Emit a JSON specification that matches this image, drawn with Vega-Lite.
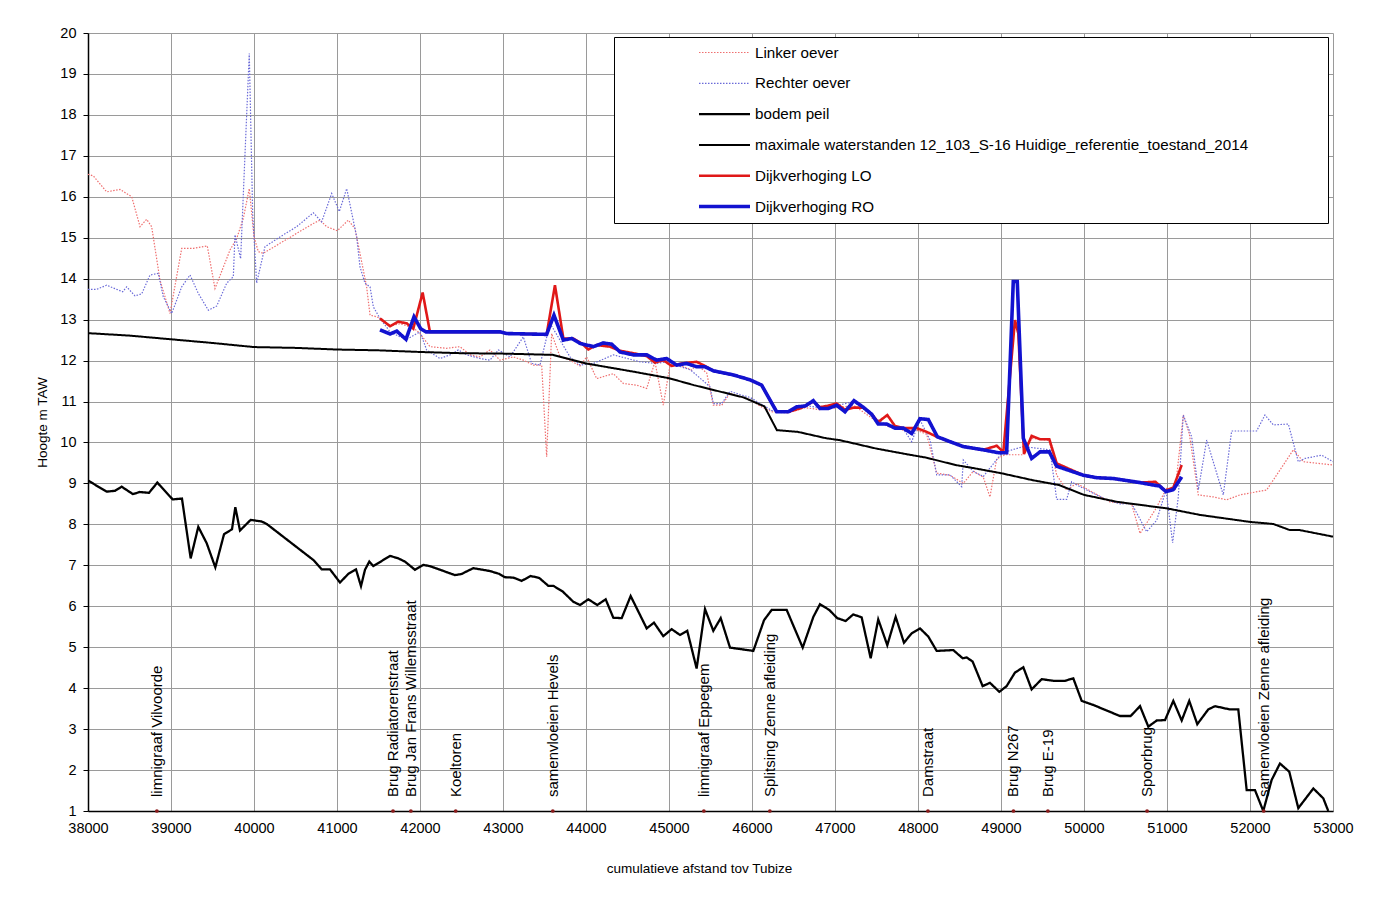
{
  "$schema": "https://vega.github.io/schema/vega-lite/v6.json",
  "width": 1245,
  "height": 778,
  "autosize": {"type": "none"},
  "padding": {"left": 88, "top": 33, "right": 52, "bottom": 96},
  "background": "white",
  "config": {
    "font": "Liberation Sans",
    "view": {"stroke": null},
    "legend": {
      "orient": "none",
      "legendX": 526,
      "legendY": 4,
      "zindex": 1,
      "fillColor": "white",
      "strokeColor": "black",
      "padding": 8,
      "symbolType": "stroke",
      "symbolSize": 2601,
      "clipHeight": 15,
      "rowPadding": 14.8,
      "labelFontSize": 15.2,
      "labelColor": "black",
      "labelLimit": 900,
      "symbolOffset": 75,
      "labelOffset": 3
    }
  },
  "datasets": {
    "lines": [
      {"series": "Linker oever", "x": 38000, "y": 16.55}, {"series": "Linker oever", "x": 38064, "y": 16.51}, {"series": "Linker oever", "x": 38225, "y": 16.12}, {"series": "Linker oever", "x": 38386, "y": 16.18}, {"series": "Linker oever", "x": 38527, "y": 16.0}, {"series": "Linker oever", "x": 38627, "y": 15.27}, {"series": "Linker oever", "x": 38707, "y": 15.45}, {"series": "Linker oever", "x": 38767, "y": 15.27}, {"series": "Linker oever", "x": 38867, "y": 13.97}, {"series": "Linker oever", "x": 38988, "y": 13.15}, {"series": "Linker oever", "x": 39129, "y": 14.74}, {"series": "Linker oever", "x": 39269, "y": 14.74}, {"series": "Linker oever", "x": 39437, "y": 14.8}, {"series": "Linker oever", "x": 39530, "y": 13.76}, {"series": "Linker oever", "x": 39711, "y": 14.7}, {"series": "Linker oever", "x": 39791, "y": 14.98}, {"series": "Linker oever", "x": 39871, "y": 15.47}, {"series": "Linker oever", "x": 39943, "y": 16.2}, {"series": "Linker oever", "x": 40000, "y": 15.02}, {"series": "Linker oever", "x": 40052, "y": 14.66}, {"series": "Linker oever", "x": 40112, "y": 14.62}, {"series": "Linker oever", "x": 40715, "y": 15.35}, {"series": "Linker oever", "x": 40795, "y": 15.43}, {"series": "Linker oever", "x": 40876, "y": 15.27}, {"series": "Linker oever", "x": 41004, "y": 15.17}, {"series": "Linker oever", "x": 41136, "y": 15.43}, {"series": "Linker oever", "x": 41217, "y": 15.22}, {"series": "Linker oever", "x": 41277, "y": 14.62}, {"series": "Linker oever", "x": 41357, "y": 13.8}, {"series": "Linker oever", "x": 41398, "y": 13.11}, {"series": "Linker oever", "x": 41478, "y": 13.07}, {"series": "Linker oever", "x": 41518, "y": 13.03}, {"series": "Linker oever", "x": 41640, "y": 12.85}, {"series": "Linker oever", "x": 41760, "y": 12.9}, {"series": "Linker oever", "x": 41920, "y": 12.8}, {"series": "Linker oever", "x": 42000, "y": 12.66}, {"series": "Linker oever", "x": 42120, "y": 12.34}, {"series": "Linker oever", "x": 42321, "y": 12.3}, {"series": "Linker oever", "x": 42482, "y": 12.34}, {"series": "Linker oever", "x": 42602, "y": 12.14}, {"series": "Linker oever", "x": 42723, "y": 12.09}, {"series": "Linker oever", "x": 42843, "y": 12.26}, {"series": "Linker oever", "x": 42964, "y": 12.01}, {"series": "Linker oever", "x": 43124, "y": 12.09}, {"series": "Linker oever", "x": 43245, "y": 12.01}, {"series": "Linker oever", "x": 43365, "y": 11.89}, {"series": "Linker oever", "x": 43466, "y": 11.89}, {"series": "Linker oever", "x": 43526, "y": 9.65}, {"series": "Linker oever", "x": 43586, "y": 12.66}, {"series": "Linker oever", "x": 43687, "y": 12.09}, {"series": "Linker oever", "x": 43807, "y": 12.01}, {"series": "Linker oever", "x": 43928, "y": 11.87}, {"series": "Linker oever", "x": 44008, "y": 12.09}, {"series": "Linker oever", "x": 44128, "y": 11.56}, {"series": "Linker oever", "x": 44329, "y": 11.68}, {"series": "Linker oever", "x": 44450, "y": 11.44}, {"series": "Linker oever", "x": 44610, "y": 11.4}, {"series": "Linker oever", "x": 44731, "y": 11.32}, {"series": "Linker oever", "x": 44831, "y": 11.97}, {"series": "Linker oever", "x": 44931, "y": 10.91}, {"series": "Linker oever", "x": 45012, "y": 11.89}, {"series": "Linker oever", "x": 45172, "y": 11.85}, {"series": "Linker oever", "x": 45273, "y": 11.77}, {"series": "Linker oever", "x": 45333, "y": 11.9}, {"series": "Linker oever", "x": 45454, "y": 11.7}, {"series": "Linker oever", "x": 45534, "y": 10.91}, {"series": "Linker oever", "x": 45635, "y": 10.91}, {"series": "Linker oever", "x": 45735, "y": 11.2}, {"series": "Linker oever", "x": 45855, "y": 11.12}, {"series": "Linker oever", "x": 45976, "y": 11.04}, {"series": "Linker oever", "x": 46116, "y": 10.87}, {"series": "Linker oever", "x": 46237, "y": 10.75}, {"series": "Linker oever", "x": 46437, "y": 10.72}, {"series": "Linker oever", "x": 46639, "y": 10.85}, {"series": "Linker oever", "x": 46819, "y": 10.8}, {"series": "Linker oever", "x": 47020, "y": 10.85}, {"series": "Linker oever", "x": 47229, "y": 10.9}, {"series": "Linker oever", "x": 47442, "y": 10.6}, {"series": "Linker oever", "x": 47622, "y": 10.4}, {"series": "Linker oever", "x": 47823, "y": 10.3}, {"series": "Linker oever", "x": 47984, "y": 10.3}, {"series": "Linker oever", "x": 48104, "y": 10.2}, {"series": "Linker oever", "x": 48225, "y": 9.25}, {"series": "Linker oever", "x": 48385, "y": 9.2}, {"series": "Linker oever", "x": 48546, "y": 9.0}, {"series": "Linker oever", "x": 48667, "y": 9.3}, {"series": "Linker oever", "x": 48787, "y": 9.15}, {"series": "Linker oever", "x": 48867, "y": 8.67}, {"series": "Linker oever", "x": 48948, "y": 9.6}, {"series": "Linker oever", "x": 49048, "y": 9.7}, {"series": "Linker oever", "x": 49168, "y": 9.7}, {"series": "Linker oever", "x": 49269, "y": 9.7}, {"series": "Linker oever", "x": 49369, "y": 10.1}, {"series": "Linker oever", "x": 49582, "y": 10.05}, {"series": "Linker oever", "x": 49671, "y": 9.2}, {"series": "Linker oever", "x": 49791, "y": 8.84}, {"series": "Linker oever", "x": 49912, "y": 9.0}, {"series": "Linker oever", "x": 50313, "y": 8.55}, {"series": "Linker oever", "x": 50574, "y": 8.5}, {"series": "Linker oever", "x": 50675, "y": 7.78}, {"series": "Linker oever", "x": 50856, "y": 8.35}, {"series": "Linker oever", "x": 50996, "y": 8.88}, {"series": "Linker oever", "x": 51100, "y": 8.85}, {"series": "Linker oever", "x": 51196, "y": 10.67}, {"series": "Linker oever", "x": 51268, "y": 10.22}, {"series": "Linker oever", "x": 51377, "y": 8.72}, {"series": "Linker oever", "x": 51558, "y": 8.67}, {"series": "Linker oever", "x": 51719, "y": 8.6}, {"series": "Linker oever", "x": 51879, "y": 8.72}, {"series": "Linker oever", "x": 52201, "y": 8.84}, {"series": "Linker oever", "x": 52402, "y": 9.45}, {"series": "Linker oever", "x": 52522, "y": 9.82}, {"series": "Linker oever", "x": 52643, "y": 9.53}, {"series": "Linker oever", "x": 53000, "y": 9.45},

      {"series": "Rechter oever", "x": 38000, "y": 13.74}, {"series": "Rechter oever", "x": 38104, "y": 13.74}, {"series": "Rechter oever", "x": 38225, "y": 13.84}, {"series": "Rechter oever", "x": 38345, "y": 13.74}, {"series": "Rechter oever", "x": 38418, "y": 13.68}, {"series": "Rechter oever", "x": 38466, "y": 13.8}, {"series": "Rechter oever", "x": 38566, "y": 13.58}, {"series": "Rechter oever", "x": 38647, "y": 13.63}, {"series": "Rechter oever", "x": 38747, "y": 14.09}, {"series": "Rechter oever", "x": 38847, "y": 14.13}, {"series": "Rechter oever", "x": 38907, "y": 13.56}, {"series": "Rechter oever", "x": 39008, "y": 13.15}, {"series": "Rechter oever", "x": 39129, "y": 13.8}, {"series": "Rechter oever", "x": 39229, "y": 14.09}, {"series": "Rechter oever", "x": 39329, "y": 13.64}, {"series": "Rechter oever", "x": 39450, "y": 13.23}, {"series": "Rechter oever", "x": 39550, "y": 13.33}, {"series": "Rechter oever", "x": 39671, "y": 13.89}, {"series": "Rechter oever", "x": 39751, "y": 14.05}, {"series": "Rechter oever", "x": 39771, "y": 15.07}, {"series": "Rechter oever", "x": 39839, "y": 14.49}, {"series": "Rechter oever", "x": 39892, "y": 17.06}, {"series": "Rechter oever", "x": 39943, "y": 19.5}, {"series": "Rechter oever", "x": 39984, "y": 15.59}, {"series": "Rechter oever", "x": 40032, "y": 13.89}, {"series": "Rechter oever", "x": 40132, "y": 14.78}, {"series": "Rechter oever", "x": 40313, "y": 15.02}, {"series": "Rechter oever", "x": 40514, "y": 15.27}, {"series": "Rechter oever", "x": 40715, "y": 15.61}, {"series": "Rechter oever", "x": 40815, "y": 15.39}, {"series": "Rechter oever", "x": 40936, "y": 16.08}, {"series": "Rechter oever", "x": 41028, "y": 15.64}, {"series": "Rechter oever", "x": 41117, "y": 16.2}, {"series": "Rechter oever", "x": 41237, "y": 15.02}, {"series": "Rechter oever", "x": 41277, "y": 14.29}, {"series": "Rechter oever", "x": 41337, "y": 13.89}, {"series": "Rechter oever", "x": 41398, "y": 13.8}, {"series": "Rechter oever", "x": 41438, "y": 13.31}, {"series": "Rechter oever", "x": 41518, "y": 13.03}, {"series": "Rechter oever", "x": 41640, "y": 12.7}, {"series": "Rechter oever", "x": 41759, "y": 12.58}, {"series": "Rechter oever", "x": 41840, "y": 12.52}, {"series": "Rechter oever", "x": 42000, "y": 12.7}, {"series": "Rechter oever", "x": 42080, "y": 12.26}, {"series": "Rechter oever", "x": 42241, "y": 12.05}, {"series": "Rechter oever", "x": 42362, "y": 12.14}, {"series": "Rechter oever", "x": 42462, "y": 12.26}, {"series": "Rechter oever", "x": 42562, "y": 12.14}, {"series": "Rechter oever", "x": 42723, "y": 12.05}, {"series": "Rechter oever", "x": 42843, "y": 12.01}, {"series": "Rechter oever", "x": 42944, "y": 12.26}, {"series": "Rechter oever", "x": 43084, "y": 12.09}, {"series": "Rechter oever", "x": 43245, "y": 12.58}, {"series": "Rechter oever", "x": 43345, "y": 11.93}, {"series": "Rechter oever", "x": 43446, "y": 11.89}, {"series": "Rechter oever", "x": 43566, "y": 12.91}, {"series": "Rechter oever", "x": 43687, "y": 12.5}, {"series": "Rechter oever", "x": 43807, "y": 12.09}, {"series": "Rechter oever", "x": 43928, "y": 11.89}, {"series": "Rechter oever", "x": 44089, "y": 11.93}, {"series": "Rechter oever", "x": 44329, "y": 12.14}, {"series": "Rechter oever", "x": 44651, "y": 11.97}, {"series": "Rechter oever", "x": 44851, "y": 11.93}, {"series": "Rechter oever", "x": 44972, "y": 11.97}, {"series": "Rechter oever", "x": 45261, "y": 11.77}, {"series": "Rechter oever", "x": 45494, "y": 11.36}, {"series": "Rechter oever", "x": 45534, "y": 10.95}, {"series": "Rechter oever", "x": 45635, "y": 10.95}, {"series": "Rechter oever", "x": 45735, "y": 11.25}, {"series": "Rechter oever", "x": 45855, "y": 11.17}, {"series": "Rechter oever", "x": 45976, "y": 11.1}, {"series": "Rechter oever", "x": 46137, "y": 10.91}, {"series": "Rechter oever", "x": 46237, "y": 10.78}, {"series": "Rechter oever", "x": 46437, "y": 10.78}, {"series": "Rechter oever", "x": 46639, "y": 10.9}, {"series": "Rechter oever", "x": 46819, "y": 10.85}, {"series": "Rechter oever", "x": 47020, "y": 10.9}, {"series": "Rechter oever", "x": 47229, "y": 11.0}, {"series": "Rechter oever", "x": 47442, "y": 10.65}, {"series": "Rechter oever", "x": 47622, "y": 10.42}, {"series": "Rechter oever", "x": 47823, "y": 10.33}, {"series": "Rechter oever", "x": 47924, "y": 10.02}, {"series": "Rechter oever", "x": 48024, "y": 10.55}, {"series": "Rechter oever", "x": 48145, "y": 10.06}, {"series": "Rechter oever", "x": 48225, "y": 9.21}, {"series": "Rechter oever", "x": 48385, "y": 9.21}, {"series": "Rechter oever", "x": 48526, "y": 8.92}, {"series": "Rechter oever", "x": 48546, "y": 9.57}, {"series": "Rechter oever", "x": 48667, "y": 9.29}, {"series": "Rechter oever", "x": 48787, "y": 9.17}, {"series": "Rechter oever", "x": 48928, "y": 9.53}, {"series": "Rechter oever", "x": 49008, "y": 9.73}, {"series": "Rechter oever", "x": 49100, "y": 9.8}, {"series": "Rechter oever", "x": 49269, "y": 9.9}, {"series": "Rechter oever", "x": 49470, "y": 9.85}, {"series": "Rechter oever", "x": 49590, "y": 9.82}, {"series": "Rechter oever", "x": 49671, "y": 8.61}, {"series": "Rechter oever", "x": 49791, "y": 8.61}, {"series": "Rechter oever", "x": 49851, "y": 9.04}, {"series": "Rechter oever", "x": 49952, "y": 8.92}, {"series": "Rechter oever", "x": 50273, "y": 8.6}, {"series": "Rechter oever", "x": 50434, "y": 8.5}, {"series": "Rechter oever", "x": 50574, "y": 8.51}, {"series": "Rechter oever", "x": 50755, "y": 7.82}, {"series": "Rechter oever", "x": 50876, "y": 8.1}, {"series": "Rechter oever", "x": 50988, "y": 8.84}, {"series": "Rechter oever", "x": 51068, "y": 7.55}, {"series": "Rechter oever", "x": 51136, "y": 8.67}, {"series": "Rechter oever", "x": 51196, "y": 10.67}, {"series": "Rechter oever", "x": 51297, "y": 10.14}, {"series": "Rechter oever", "x": 51377, "y": 8.84}, {"series": "Rechter oever", "x": 51478, "y": 10.06}, {"series": "Rechter oever", "x": 51678, "y": 8.72}, {"series": "Rechter oever", "x": 51779, "y": 10.28}, {"series": "Rechter oever", "x": 52080, "y": 10.28}, {"series": "Rechter oever", "x": 52180, "y": 10.67}, {"series": "Rechter oever", "x": 52281, "y": 10.43}, {"series": "Rechter oever", "x": 52462, "y": 10.45}, {"series": "Rechter oever", "x": 52582, "y": 9.53}, {"series": "Rechter oever", "x": 52663, "y": 9.61}, {"series": "Rechter oever", "x": 52864, "y": 9.69}, {"series": "Rechter oever", "x": 53000, "y": 9.53},

      {"series": "bodem peil", "x": 38000, "y": 9.07}, {"series": "bodem peil", "x": 38225, "y": 8.8}, {"series": "bodem peil", "x": 38325, "y": 8.82}, {"series": "bodem peil", "x": 38405, "y": 8.92}, {"series": "bodem peil", "x": 38540, "y": 8.74}, {"series": "bodem peil", "x": 38625, "y": 8.79}, {"series": "bodem peil", "x": 38735, "y": 8.77}, {"series": "bodem peil", "x": 38835, "y": 9.02}, {"series": "bodem peil", "x": 39020, "y": 8.61}, {"series": "bodem peil", "x": 39132, "y": 8.63}, {"series": "bodem peil", "x": 39237, "y": 7.17}, {"series": "bodem peil", "x": 39329, "y": 7.94}, {"series": "bodem peil", "x": 39430, "y": 7.54}, {"series": "bodem peil", "x": 39534, "y": 6.95}, {"series": "bodem peil", "x": 39639, "y": 7.76}, {"series": "bodem peil", "x": 39735, "y": 7.88}, {"series": "bodem peil", "x": 39775, "y": 8.42}, {"series": "bodem peil", "x": 39831, "y": 7.85}, {"series": "bodem peil", "x": 39960, "y": 8.11}, {"series": "bodem peil", "x": 40093, "y": 8.07}, {"series": "bodem peil", "x": 40153, "y": 8.01}, {"series": "bodem peil", "x": 40715, "y": 7.13}, {"series": "bodem peil", "x": 40815, "y": 6.9}, {"series": "bodem peil", "x": 40916, "y": 6.9}, {"series": "bodem peil", "x": 41036, "y": 6.58}, {"series": "bodem peil", "x": 41136, "y": 6.79}, {"series": "bodem peil", "x": 41229, "y": 6.9}, {"series": "bodem peil", "x": 41289, "y": 6.49}, {"series": "bodem peil", "x": 41337, "y": 6.89}, {"series": "bodem peil", "x": 41389, "y": 7.09}, {"series": "bodem peil", "x": 41437, "y": 6.98}, {"series": "bodem peil", "x": 41639, "y": 7.23}, {"series": "bodem peil", "x": 41739, "y": 7.17}, {"series": "bodem peil", "x": 41819, "y": 7.09}, {"series": "bodem peil", "x": 41940, "y": 6.89}, {"series": "bodem peil", "x": 42040, "y": 7.01}, {"series": "bodem peil", "x": 42120, "y": 6.98}, {"series": "bodem peil", "x": 42422, "y": 6.76}, {"series": "bodem peil", "x": 42502, "y": 6.79}, {"series": "bodem peil", "x": 42642, "y": 6.93}, {"series": "bodem peil", "x": 42843, "y": 6.86}, {"series": "bodem peil", "x": 42955, "y": 6.79}, {"series": "bodem peil", "x": 43024, "y": 6.71}, {"series": "bodem peil", "x": 43124, "y": 6.7}, {"series": "bodem peil", "x": 43225, "y": 6.62}, {"series": "bodem peil", "x": 43333, "y": 6.74}, {"series": "bodem peil", "x": 43437, "y": 6.69}, {"series": "bodem peil", "x": 43546, "y": 6.5}, {"series": "bodem peil", "x": 43606, "y": 6.5}, {"series": "bodem peil", "x": 43719, "y": 6.36}, {"series": "bodem peil", "x": 43847, "y": 6.11}, {"series": "bodem peil", "x": 43928, "y": 6.03}, {"series": "bodem peil", "x": 44028, "y": 6.17}, {"series": "bodem peil", "x": 44136, "y": 6.03}, {"series": "bodem peil", "x": 44237, "y": 6.17}, {"series": "bodem peil", "x": 44329, "y": 5.72}, {"series": "bodem peil", "x": 44430, "y": 5.71}, {"series": "bodem peil", "x": 44538, "y": 6.25}, {"series": "bodem peil", "x": 44731, "y": 5.46}, {"series": "bodem peil", "x": 44819, "y": 5.6}, {"series": "bodem peil", "x": 44931, "y": 5.27}, {"series": "bodem peil", "x": 45032, "y": 5.44}, {"series": "bodem peil", "x": 45132, "y": 5.3}, {"series": "bodem peil", "x": 45220, "y": 5.4}, {"series": "bodem peil", "x": 45333, "y": 4.48}, {"series": "bodem peil", "x": 45434, "y": 5.93}, {"series": "bodem peil", "x": 45534, "y": 5.4}, {"series": "bodem peil", "x": 45623, "y": 5.71}, {"series": "bodem peil", "x": 45735, "y": 4.99}, {"series": "bodem peil", "x": 46016, "y": 4.91}, {"series": "bodem peil", "x": 46145, "y": 5.66}, {"series": "bodem peil", "x": 46237, "y": 5.91}, {"series": "bodem peil", "x": 46418, "y": 5.91}, {"series": "bodem peil", "x": 46611, "y": 4.99}, {"series": "bodem peil", "x": 46739, "y": 5.74}, {"series": "bodem peil", "x": 46819, "y": 6.05}, {"series": "bodem peil", "x": 46931, "y": 5.91}, {"series": "bodem peil", "x": 47027, "y": 5.71}, {"series": "bodem peil", "x": 47128, "y": 5.64}, {"series": "bodem peil", "x": 47220, "y": 5.8}, {"series": "bodem peil", "x": 47321, "y": 5.73}, {"series": "bodem peil", "x": 47430, "y": 4.73}, {"series": "bodem peil", "x": 47521, "y": 5.68}, {"series": "bodem peil", "x": 47630, "y": 5.05}, {"series": "bodem peil", "x": 47731, "y": 5.74}, {"series": "bodem peil", "x": 47831, "y": 5.11}, {"series": "bodem peil", "x": 47924, "y": 5.34}, {"series": "bodem peil", "x": 48024, "y": 5.46}, {"series": "bodem peil", "x": 48124, "y": 5.26}, {"series": "bodem peil", "x": 48225, "y": 4.91}, {"series": "bodem peil", "x": 48425, "y": 4.93}, {"series": "bodem peil", "x": 48538, "y": 4.73}, {"series": "bodem peil", "x": 48586, "y": 4.75}, {"series": "bodem peil", "x": 48658, "y": 4.65}, {"series": "bodem peil", "x": 48779, "y": 4.05}, {"series": "bodem peil", "x": 48867, "y": 4.13}, {"series": "bodem peil", "x": 48980, "y": 3.91}, {"series": "bodem peil", "x": 49068, "y": 4.05}, {"series": "bodem peil", "x": 49168, "y": 4.38}, {"series": "bodem peil", "x": 49269, "y": 4.51}, {"series": "bodem peil", "x": 49369, "y": 3.97}, {"series": "bodem peil", "x": 49490, "y": 4.22}, {"series": "bodem peil", "x": 49630, "y": 4.18}, {"series": "bodem peil", "x": 49771, "y": 4.18}, {"series": "bodem peil", "x": 49871, "y": 4.24}, {"series": "bodem peil", "x": 49972, "y": 3.69}, {"series": "bodem peil", "x": 50112, "y": 3.59}, {"series": "bodem peil", "x": 50313, "y": 3.42}, {"series": "bodem peil", "x": 50434, "y": 3.32}, {"series": "bodem peil", "x": 50562, "y": 3.32}, {"series": "bodem peil", "x": 50675, "y": 3.56}, {"series": "bodem peil", "x": 50775, "y": 3.06}, {"series": "bodem peil", "x": 50876, "y": 3.21}, {"series": "bodem peil", "x": 50976, "y": 3.22}, {"series": "bodem peil", "x": 51076, "y": 3.69}, {"series": "bodem peil", "x": 51177, "y": 3.21}, {"series": "bodem peil", "x": 51268, "y": 3.69}, {"series": "bodem peil", "x": 51365, "y": 3.12}, {"series": "bodem peil", "x": 51497, "y": 3.48}, {"series": "bodem peil", "x": 51578, "y": 3.56}, {"series": "bodem peil", "x": 51759, "y": 3.48}, {"series": "bodem peil", "x": 51859, "y": 3.48}, {"series": "bodem peil", "x": 51960, "y": 1.51}, {"series": "bodem peil", "x": 52060, "y": 1.51}, {"series": "bodem peil", "x": 52160, "y": 1.0}, {"series": "bodem peil", "x": 52261, "y": 1.76}, {"series": "bodem peil", "x": 52361, "y": 2.16}, {"series": "bodem peil", "x": 52473, "y": 1.96}, {"series": "bodem peil", "x": 52582, "y": 1.07}, {"series": "bodem peil", "x": 52763, "y": 1.55}, {"series": "bodem peil", "x": 52883, "y": 1.31}, {"series": "bodem peil", "x": 52943, "y": 1.0},

      {"series": "maximale waterstanden 12_103_S-16 Huidige_referentie_toestand_2014", "x": 38000, "y": 12.67}, {"series": "maximale waterstanden 12_103_S-16 Huidige_referentie_toestand_2014", "x": 38500, "y": 12.61}, {"series": "maximale waterstanden 12_103_S-16 Huidige_referentie_toestand_2014", "x": 39000, "y": 12.52}, {"series": "maximale waterstanden 12_103_S-16 Huidige_referentie_toestand_2014", "x": 39500, "y": 12.43}, {"series": "maximale waterstanden 12_103_S-16 Huidige_referentie_toestand_2014", "x": 39800, "y": 12.37}, {"series": "maximale waterstanden 12_103_S-16 Huidige_referentie_toestand_2014", "x": 40000, "y": 12.33}, {"series": "maximale waterstanden 12_103_S-16 Huidige_referentie_toestand_2014", "x": 40500, "y": 12.31}, {"series": "maximale waterstanden 12_103_S-16 Huidige_referentie_toestand_2014", "x": 41000, "y": 12.27}, {"series": "maximale waterstanden 12_103_S-16 Huidige_referentie_toestand_2014", "x": 41500, "y": 12.25}, {"series": "maximale waterstanden 12_103_S-16 Huidige_referentie_toestand_2014", "x": 42000, "y": 12.21}, {"series": "maximale waterstanden 12_103_S-16 Huidige_referentie_toestand_2014", "x": 42500, "y": 12.18}, {"series": "maximale waterstanden 12_103_S-16 Huidige_referentie_toestand_2014", "x": 43000, "y": 12.17}, {"series": "maximale waterstanden 12_103_S-16 Huidige_referentie_toestand_2014", "x": 43600, "y": 12.14}, {"series": "maximale waterstanden 12_103_S-16 Huidige_referentie_toestand_2014", "x": 44000, "y": 11.93}, {"series": "maximale waterstanden 12_103_S-16 Huidige_referentie_toestand_2014", "x": 44570, "y": 11.73}, {"series": "maximale waterstanden 12_103_S-16 Huidige_referentie_toestand_2014", "x": 45000, "y": 11.57}, {"series": "maximale waterstanden 12_103_S-16 Huidige_referentie_toestand_2014", "x": 45300, "y": 11.4}, {"series": "maximale waterstanden 12_103_S-16 Huidige_referentie_toestand_2014", "x": 45900, "y": 11.1}, {"series": "maximale waterstanden 12_103_S-16 Huidige_referentie_toestand_2014", "x": 46150, "y": 10.88}, {"series": "maximale waterstanden 12_103_S-16 Huidige_referentie_toestand_2014", "x": 46300, "y": 10.3}, {"series": "maximale waterstanden 12_103_S-16 Huidige_referentie_toestand_2014", "x": 46550, "y": 10.26}, {"series": "maximale waterstanden 12_103_S-16 Huidige_referentie_toestand_2014", "x": 46900, "y": 10.1}, {"series": "maximale waterstanden 12_103_S-16 Huidige_referentie_toestand_2014", "x": 47050, "y": 10.06}, {"series": "maximale waterstanden 12_103_S-16 Huidige_referentie_toestand_2014", "x": 47500, "y": 9.85}, {"series": "maximale waterstanden 12_103_S-16 Huidige_referentie_toestand_2014", "x": 47900, "y": 9.7}, {"series": "maximale waterstanden 12_103_S-16 Huidige_referentie_toestand_2014", "x": 48100, "y": 9.63}, {"series": "maximale waterstanden 12_103_S-16 Huidige_referentie_toestand_2014", "x": 48450, "y": 9.45}, {"series": "maximale waterstanden 12_103_S-16 Huidige_referentie_toestand_2014", "x": 48680, "y": 9.37}, {"series": "maximale waterstanden 12_103_S-16 Huidige_referentie_toestand_2014", "x": 49000, "y": 9.25}, {"series": "maximale waterstanden 12_103_S-16 Huidige_referentie_toestand_2014", "x": 49380, "y": 9.08}, {"series": "maximale waterstanden 12_103_S-16 Huidige_referentie_toestand_2014", "x": 49700, "y": 8.96}, {"series": "maximale waterstanden 12_103_S-16 Huidige_referentie_toestand_2014", "x": 50000, "y": 8.72}, {"series": "maximale waterstanden 12_103_S-16 Huidige_referentie_toestand_2014", "x": 50400, "y": 8.55}, {"series": "maximale waterstanden 12_103_S-16 Huidige_referentie_toestand_2014", "x": 51000, "y": 8.39}, {"series": "maximale waterstanden 12_103_S-16 Huidige_referentie_toestand_2014", "x": 51400, "y": 8.23}, {"series": "maximale waterstanden 12_103_S-16 Huidige_referentie_toestand_2014", "x": 52000, "y": 8.06}, {"series": "maximale waterstanden 12_103_S-16 Huidige_referentie_toestand_2014", "x": 52280, "y": 8.01}, {"series": "maximale waterstanden 12_103_S-16 Huidige_referentie_toestand_2014", "x": 52480, "y": 7.86}, {"series": "maximale waterstanden 12_103_S-16 Huidige_referentie_toestand_2014", "x": 52600, "y": 7.86}, {"series": "maximale waterstanden 12_103_S-16 Huidige_referentie_toestand_2014", "x": 53000, "y": 7.7},

      {"series": "Dijkverhoging  LO", "x": 41518, "y": 13.03}, {"series": "Dijkverhoging  LO", "x": 41639, "y": 12.84}, {"series": "Dijkverhoging  LO", "x": 41739, "y": 12.95}, {"series": "Dijkverhoging  LO", "x": 41840, "y": 12.91}, {"series": "Dijkverhoging  LO", "x": 41919, "y": 12.78}, {"series": "Dijkverhoging  LO", "x": 42032, "y": 13.66}, {"series": "Dijkverhoging  LO", "x": 42120, "y": 12.7}, {"series": "Dijkverhoging  LO", "x": 42964, "y": 12.7}, {"series": "Dijkverhoging  LO", "x": 43044, "y": 12.66}, {"series": "Dijkverhoging  LO", "x": 43526, "y": 12.64}, {"series": "Dijkverhoging  LO", "x": 43626, "y": 13.84}, {"series": "Dijkverhoging  LO", "x": 43727, "y": 12.54}, {"series": "Dijkverhoging  LO", "x": 43847, "y": 12.54}, {"series": "Dijkverhoging  LO", "x": 43948, "y": 12.42}, {"series": "Dijkverhoging  LO", "x": 44028, "y": 12.27}, {"series": "Dijkverhoging  LO", "x": 44128, "y": 12.38}, {"series": "Dijkverhoging  LO", "x": 44289, "y": 12.34}, {"series": "Dijkverhoging  LO", "x": 44410, "y": 12.24}, {"series": "Dijkverhoging  LO", "x": 44570, "y": 12.18}, {"series": "Dijkverhoging  LO", "x": 44731, "y": 12.11}, {"series": "Dijkverhoging  LO", "x": 44831, "y": 11.95}, {"series": "Dijkverhoging  LO", "x": 44931, "y": 12.01}, {"series": "Dijkverhoging  LO", "x": 45032, "y": 11.87}, {"series": "Dijkverhoging  LO", "x": 45152, "y": 11.93}, {"series": "Dijkverhoging  LO", "x": 45333, "y": 11.97}, {"series": "Dijkverhoging  LO", "x": 45413, "y": 11.89}, {"series": "Dijkverhoging  LO", "x": 45534, "y": 11.75}, {"series": "Dijkverhoging  LO", "x": 45775, "y": 11.65}, {"series": "Dijkverhoging  LO", "x": 45976, "y": 11.53}, {"series": "Dijkverhoging  LO", "x": 46116, "y": 11.4}, {"series": "Dijkverhoging  LO", "x": 46297, "y": 10.75}, {"series": "Dijkverhoging  LO", "x": 46437, "y": 10.75}, {"series": "Dijkverhoging  LO", "x": 46578, "y": 10.83}, {"series": "Dijkverhoging  LO", "x": 46639, "y": 10.89}, {"series": "Dijkverhoging  LO", "x": 46739, "y": 11.0}, {"series": "Dijkverhoging  LO", "x": 46819, "y": 10.86}, {"series": "Dijkverhoging  LO", "x": 46919, "y": 10.9}, {"series": "Dijkverhoging  LO", "x": 47020, "y": 10.95}, {"series": "Dijkverhoging  LO", "x": 47120, "y": 10.8}, {"series": "Dijkverhoging  LO", "x": 47229, "y": 10.85}, {"series": "Dijkverhoging  LO", "x": 47341, "y": 10.85}, {"series": "Dijkverhoging  LO", "x": 47442, "y": 10.69}, {"series": "Dijkverhoging  LO", "x": 47521, "y": 10.5}, {"series": "Dijkverhoging  LO", "x": 47630, "y": 10.67}, {"series": "Dijkverhoging  LO", "x": 47723, "y": 10.4}, {"series": "Dijkverhoging  LO", "x": 47823, "y": 10.35}, {"series": "Dijkverhoging  LO", "x": 47984, "y": 10.35}, {"series": "Dijkverhoging  LO", "x": 48104, "y": 10.26}, {"series": "Dijkverhoging  LO", "x": 48225, "y": 10.14}, {"series": "Dijkverhoging  LO", "x": 48385, "y": 10.02}, {"series": "Dijkverhoging  LO", "x": 48546, "y": 9.9}, {"series": "Dijkverhoging  LO", "x": 48787, "y": 9.82}, {"series": "Dijkverhoging  LO", "x": 48948, "y": 9.92}, {"series": "Dijkverhoging  LO", "x": 49028, "y": 9.77}, {"series": "Dijkverhoging  LO", "x": 49168, "y": 12.99}, {"series": "Dijkverhoging  LO", "x": 49209, "y": 12.66}, {"series": "Dijkverhoging  LO", "x": 49277, "y": 9.72}, {"series": "Dijkverhoging  LO", "x": 49369, "y": 10.16}, {"series": "Dijkverhoging  LO", "x": 49470, "y": 10.08}, {"series": "Dijkverhoging  LO", "x": 49582, "y": 10.08}, {"series": "Dijkverhoging  LO", "x": 49671, "y": 9.49}, {"series": "Dijkverhoging  LO", "x": 49992, "y": 9.2}, {"series": "Dijkverhoging  LO", "x": 50152, "y": 9.14}, {"series": "Dijkverhoging  LO", "x": 50353, "y": 9.12}, {"series": "Dijkverhoging  LO", "x": 50675, "y": 9.02}, {"series": "Dijkverhoging  LO", "x": 50860, "y": 9.04}, {"series": "Dijkverhoging  LO", "x": 50980, "y": 8.82}, {"series": "Dijkverhoging  LO", "x": 51076, "y": 8.9}, {"series": "Dijkverhoging  LO", "x": 51177, "y": 9.45},

      {"series": "Dijkverhoging  RO", "x": 41518, "y": 12.75}, {"series": "Dijkverhoging  RO", "x": 41640, "y": 12.65}, {"series": "Dijkverhoging  RO", "x": 41720, "y": 12.72}, {"series": "Dijkverhoging  RO", "x": 41831, "y": 12.52}, {"series": "Dijkverhoging  RO", "x": 41928, "y": 13.07}, {"series": "Dijkverhoging  RO", "x": 42008, "y": 12.78}, {"series": "Dijkverhoging  RO", "x": 42072, "y": 12.7}, {"series": "Dijkverhoging  RO", "x": 42964, "y": 12.7}, {"series": "Dijkverhoging  RO", "x": 43044, "y": 12.66}, {"series": "Dijkverhoging  RO", "x": 43526, "y": 12.64}, {"series": "Dijkverhoging  RO", "x": 43614, "y": 13.11}, {"series": "Dijkverhoging  RO", "x": 43727, "y": 12.5}, {"series": "Dijkverhoging  RO", "x": 43828, "y": 12.54}, {"series": "Dijkverhoging  RO", "x": 43928, "y": 12.42}, {"series": "Dijkverhoging  RO", "x": 44089, "y": 12.34}, {"series": "Dijkverhoging  RO", "x": 44209, "y": 12.43}, {"series": "Dijkverhoging  RO", "x": 44310, "y": 12.4}, {"series": "Dijkverhoging  RO", "x": 44410, "y": 12.21}, {"series": "Dijkverhoging  RO", "x": 44570, "y": 12.14}, {"series": "Dijkverhoging  RO", "x": 44731, "y": 12.14}, {"series": "Dijkverhoging  RO", "x": 44851, "y": 12.01}, {"series": "Dijkverhoging  RO", "x": 44972, "y": 12.05}, {"series": "Dijkverhoging  RO", "x": 45092, "y": 11.89}, {"series": "Dijkverhoging  RO", "x": 45212, "y": 11.93}, {"series": "Dijkverhoging  RO", "x": 45333, "y": 11.85}, {"series": "Dijkverhoging  RO", "x": 45434, "y": 11.85}, {"series": "Dijkverhoging  RO", "x": 45534, "y": 11.75}, {"series": "Dijkverhoging  RO", "x": 45775, "y": 11.65}, {"series": "Dijkverhoging  RO", "x": 45976, "y": 11.53}, {"series": "Dijkverhoging  RO", "x": 46116, "y": 11.4}, {"series": "Dijkverhoging  RO", "x": 46297, "y": 10.75}, {"series": "Dijkverhoging  RO", "x": 46437, "y": 10.75}, {"series": "Dijkverhoging  RO", "x": 46538, "y": 10.87}, {"series": "Dijkverhoging  RO", "x": 46639, "y": 10.89}, {"series": "Dijkverhoging  RO", "x": 46739, "y": 11.02}, {"series": "Dijkverhoging  RO", "x": 46819, "y": 10.83}, {"series": "Dijkverhoging  RO", "x": 46919, "y": 10.83}, {"series": "Dijkverhoging  RO", "x": 47020, "y": 10.91}, {"series": "Dijkverhoging  RO", "x": 47120, "y": 10.75}, {"series": "Dijkverhoging  RO", "x": 47229, "y": 11.02}, {"series": "Dijkverhoging  RO", "x": 47341, "y": 10.86}, {"series": "Dijkverhoging  RO", "x": 47442, "y": 10.69}, {"series": "Dijkverhoging  RO", "x": 47521, "y": 10.45}, {"series": "Dijkverhoging  RO", "x": 47622, "y": 10.45}, {"series": "Dijkverhoging  RO", "x": 47723, "y": 10.35}, {"series": "Dijkverhoging  RO", "x": 47823, "y": 10.35}, {"series": "Dijkverhoging  RO", "x": 47924, "y": 10.22}, {"series": "Dijkverhoging  RO", "x": 48024, "y": 10.58}, {"series": "Dijkverhoging  RO", "x": 48124, "y": 10.56}, {"series": "Dijkverhoging  RO", "x": 48233, "y": 10.14}, {"series": "Dijkverhoging  RO", "x": 48385, "y": 10.02}, {"series": "Dijkverhoging  RO", "x": 48546, "y": 9.9}, {"series": "Dijkverhoging  RO", "x": 48787, "y": 9.82}, {"series": "Dijkverhoging  RO", "x": 48968, "y": 9.75}, {"series": "Dijkverhoging  RO", "x": 49068, "y": 9.75}, {"series": "Dijkverhoging  RO", "x": 49148, "y": 13.93}, {"series": "Dijkverhoging  RO", "x": 49196, "y": 13.93}, {"series": "Dijkverhoging  RO", "x": 49269, "y": 10.1}, {"series": "Dijkverhoging  RO", "x": 49369, "y": 9.61}, {"series": "Dijkverhoging  RO", "x": 49470, "y": 9.77}, {"series": "Dijkverhoging  RO", "x": 49582, "y": 9.77}, {"series": "Dijkverhoging  RO", "x": 49671, "y": 9.42}, {"series": "Dijkverhoging  RO", "x": 49992, "y": 9.2}, {"series": "Dijkverhoging  RO", "x": 50152, "y": 9.14}, {"series": "Dijkverhoging  RO", "x": 50353, "y": 9.12}, {"series": "Dijkverhoging  RO", "x": 50675, "y": 9.02}, {"series": "Dijkverhoging  RO", "x": 50836, "y": 8.96}, {"series": "Dijkverhoging  RO", "x": 50908, "y": 8.94}, {"series": "Dijkverhoging  RO", "x": 50988, "y": 8.8}, {"series": "Dijkverhoging  RO", "x": 51076, "y": 8.85}, {"series": "Dijkverhoging  RO", "x": 51177, "y": 9.16}
    ],
    "locs": [
      {"x": 38830, "label": "limnigraaf Vilvoorde"},
      {"x": 41675, "label": "Brug Radiatorenstraat"},
      {"x": 41890, "label": "Brug Jan Frans Willemsstraat"},
      {"x": 42430, "label": "Koeltoren"},
      {"x": 43600, "label": "samenvloeien  Hevels"},
      {"x": 45420, "label": "limnigraaf Eppegem"},
      {"x": 46215, "label": "Splitsing Zenne  afleiding"},
      {"x": 48120, "label": "Damstraat"},
      {"x": 49150, "label": "Brug N267"},
      {"x": 49565, "label": "Brug E-19"},
      {"x": 50760, "label": "Spoorbrug"},
      {"x": 52165, "label": "samenvloeien  Zenne  afleiding"}
    ]
  },
  "layer": [
    {
      "data": {"name": "lines"},
      "mark": {"type": "line", "clip": true, "strokeJoin": "miter"},
      "encoding": {
        "x": {
          "field": "x", "type": "quantitative",
          "scale": {"domain": [38000, 53000], "nice": false, "zero": false},
          "axis": {
            "values": [38000, 39000, 40000, 41000, 42000, 43000, 44000, 45000, 46000, 47000, 48000, 49000, 50000, 51000, 52000, 53000],
            "format": "d",
            "labelFlush": false,
            "labelOverlap": false,
            "title": "cumulatieve  afstand tov Tubize",
            "grid": true, "gridColor": "#9a9a9a", "gridWidth": 1,
            "ticks": false,
            "domainColor": "black", "domainWidth": 1.5,
            "labelFontSize": 14.5, "labelColor": "black", "labelPadding": 10,
            "titleFontSize": 13.5, "titleFontWeight": "normal", "titleColor": "black",
            "titleX": 611, "titleY": 57, "titleBaseline": "middle", "titleAlign": "center"
          }
        },
        "y": {
          "field": "y", "type": "quantitative",
          "scale": {"domain": [1, 20], "nice": false, "zero": false},
          "axis": {
            "values": [1, 2, 3, 4, 5, 6, 7, 8, 9, 10, 11, 12, 13, 14, 15, 16, 17, 18, 19, 20],
            "labelFlush": false,
            "labelOverlap": false,
            "title": "Hoogte m TAW",
            "grid": true, "gridColor": "#9a9a9a", "gridWidth": 1,
            "ticks": true, "tickSize": 5, "tickColor": "black",
            "domainColor": "black", "domainWidth": 1.5,
            "labelFontSize": 14.5, "labelColor": "black", "labelPadding": 7,
            "titleFontSize": 13.5, "titleFontWeight": "normal", "titleColor": "black",
            "titleX": -46, "titleY": 389, "titleAngle": 270, "titleBaseline": "middle", "titleAlign": "center"
          }
        },
        "color": {
          "field": "series", "type": "ordinal",
          "scale": {
            "domain": ["Linker oever", "Rechter oever", "bodem peil", "maximale waterstanden 12_103_S-16 Huidige_referentie_toestand_2014", "Dijkverhoging  LO", "Dijkverhoging  RO"],
            "range": ["#ef6f6f", "#6a6ad8", "#000000", "#000000", "#e01818", "#1212d0"]
          },
          "legend": {"title": null, "labelExpr": "datum.label + '\u00a0\u00a0\u00a0\u00a0\u00a0\u00a0\u00a0\u00a0\u00a0\u00a0\u00a0\u00a0\u00a0\u00a0\u00a0\u00a0\u00a0\u200b'"}
        },
        "strokeDash": {
          "field": "series", "type": "ordinal",
          "scale": {
            "domain": ["Linker oever", "Rechter oever", "bodem peil", "maximale waterstanden 12_103_S-16 Huidige_referentie_toestand_2014", "Dijkverhoging  LO", "Dijkverhoging  RO"],
            "range": [[1.5, 1.5], [1.5, 1.5], [1, 0], [1, 0], [1, 0], [1, 0]]
          },
          "legend": {"title": null, "labelExpr": "datum.label + '\u00a0\u00a0\u00a0\u00a0\u00a0\u00a0\u00a0\u00a0\u00a0\u00a0\u00a0\u00a0\u00a0\u00a0\u00a0\u00a0\u00a0\u200b'"}
        },
        "strokeWidth": {
          "field": "series", "type": "ordinal",
          "scale": {
            "type": "ordinal",
            "domain": ["Linker oever", "Rechter oever", "bodem peil", "maximale waterstanden 12_103_S-16 Huidige_referentie_toestand_2014", "Dijkverhoging  LO", "Dijkverhoging  RO"],
            "range": [1.2, 1.2, 2.3, 2, 2.6, 3.6]
          },
          "legend": {"title": null, "labelExpr": "datum.label + '\u00a0\u00a0\u00a0\u00a0\u00a0\u00a0\u00a0\u00a0\u00a0\u00a0\u00a0\u00a0\u00a0\u00a0\u00a0\u00a0\u00a0\u200b'"}
        }
      }
    },
    {
      "data": {"name": "locs"},
      "mark": {"type": "point", "filled": true, "color": "#8b1a1a", "size": 14, "opacity": 1},
      "encoding": {
        "x": {"field": "x", "type": "quantitative"},
        "y": {"datum": 1}
      }
    },
    {
      "data": {"name": "locs"},
      "mark": {"type": "text", "angle": 270, "align": "left", "baseline": "middle", "dx": 14, "fontSize": 15, "color": "black"},
      "encoding": {
        "x": {"field": "x", "type": "quantitative"},
        "y": {"datum": 1},
        "text": {"field": "label"}
      }
    }
  ]
}
